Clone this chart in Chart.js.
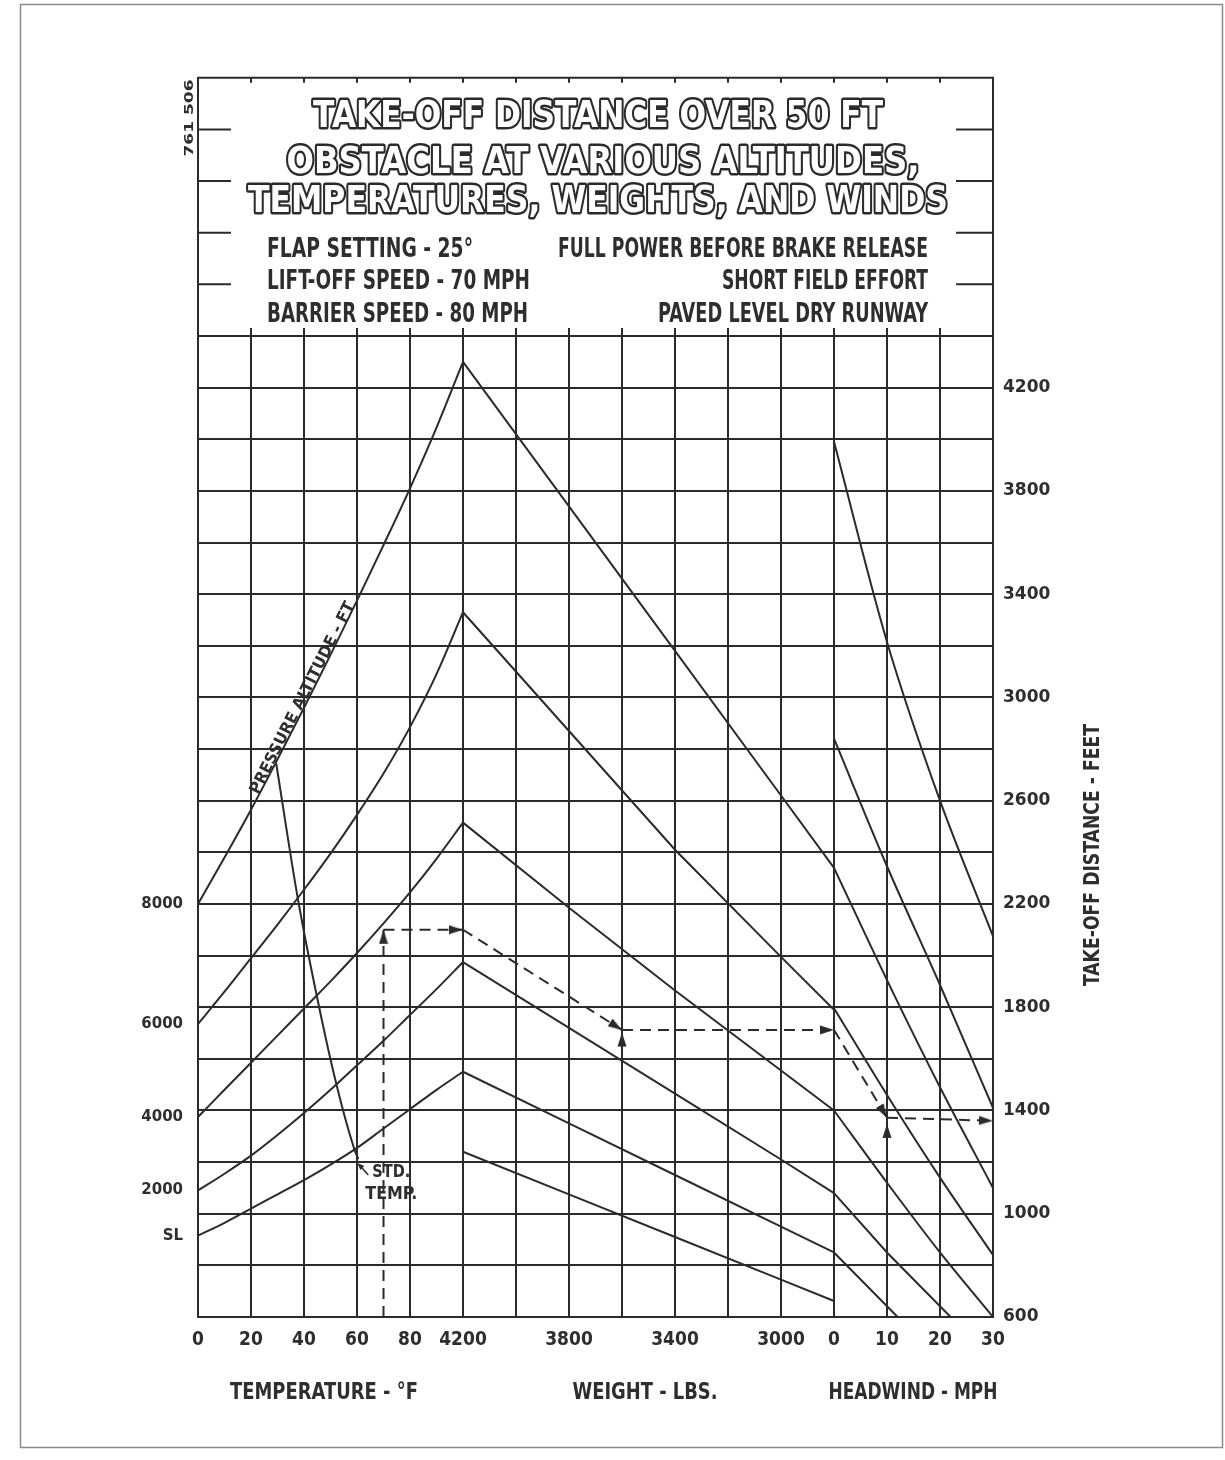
<!DOCTYPE html>
<html>
<head>
<meta charset="utf-8">
<title>Take-off distance over 50 ft obstacle</title>
<script src="https://cdn.jsdelivr.net/npm/chart.js@4.4.1/dist/chart.umd.min.js"></script>
<style>
  html, body { margin: 0; padding: 0; background: #fff; }
  #wrap { width: 1225px; height: 1460px; }
</style>
</head>
<body>
<div id="wrap"><canvas id="takeoffChart" width="1225" height="1460"></canvas></div>
<script>
const ink = '#2b2b2b';
const NARROW = '"Liberation Sans Narrow", "DejaVu Sans Condensed", "Arial Narrow", sans-serif';
const WIDE = '"DejaVu Sans", "Liberation Sans", sans-serif';

// temperature section, take-off distance (ft) for each pressure altitude
const tempPts = [0, 10, 20, 30, 40, 50, 60, 70, 80, 90, 100];
const alt8000 = [2200, 2380, 2565, 2760, 2960, 3165, 3375, 3590, 3810, 4045, 4300];
const alt6000 = [1735, 1860, 1990, 2120, 2255, 2395, 2545, 2705, 2885, 3090, 3330];
const alt4000 = [1375, 1480, 1585, 1690, 1795, 1900, 2010, 2125, 2245, 2375, 2515];
const alt2000 = [1090, 1155, 1225, 1305, 1390, 1480, 1575, 1670, 1770, 1870, 1975];
const altSL = [915, 965, 1020, 1075, 1130, 1190, 1255, 1330, 1405, 1480, 1550];
const altNames = ['8000', '6000', '4000', '2000', 'SL'];

// standard temperature line
const stdTemps = [29.5, 37.6, 44.7, 51.9, 59, 60.5];
const stdDist = [2745, 2225, 1850, 1515, 1250, 1212];

// weight section guide lines
const weightPts = [4200, 3800, 3400, 3000, 2800];
const wt1 = [4300, 3740, 3180, 2620, 2340];
const wt2 = [3330, 2870, 2410, 1995, 1790];
const wt3 = [2515, 2185, 1865, 1555, 1400];
const wt4 = [1975, 1720, 1465, 1210, 1080];
const wt5 = [1550, 1350, 1150, 950, 850];
const wt6 = [1240, 1075, 910, 745, 662];

// headwind section guide lines
const windPts = [0, 10, 20, 30];
const hw1 = [3990, 3215, 2600, 2075];
const hw2 = [2840, 2346, 1886, 1410];
const hw3 = [2340, 1905, 1490, 1100];
const hw4 = [1796, 1460, 1140, 840];
const hw5 = [1400, 1120, 850, 600];
const hw6Pts = [0, 10, 22];
const hw6 = [1080, 850, 600];
const hw7Pts = [0, 12];
const hw7 = [850, 600];

// worked example (dashed)
const exTemp = [70, 70, 100];
const exTempDist = [600, 2100, 2100];
const exWeight = [4200, 3600, 2800];
const exWeightDist = [2100, 1712, 1712];
const exWind = [0, 10, 30];
const exWindDist = [1712, 1372, 1360];
const exUpWeight = [1640, 1702];
const exUpWind = [1290, 1348];

// tick labels
const tempTicks = [0, 20, 40, 60, 80];
const weightTicks = [4200, 3800, 3400, 3000];
const windTicks = [0, 10, 20, 30];
const distTicks = [600, 1000, 1400, 1800, 2200, 2600, 3000, 3400, 3800, 4200];

// the three scales share one x axis, 20 F / 200 lb / 10 mph per grid square
const tx = t => t / 20;
const wx = w => 5 + (4200 - w) / 200;
const hx = h => 12 + h / 10;

const xLabels = {};
tempTicks.forEach(t => xLabels[tx(t)] = String(t));
weightTicks.forEach(w => xLabels[wx(w)] = String(w));
windTicks.forEach(h => xLabels[hx(h)] = String(h));

function arrowHead() {
    const c = document.createElement('canvas');
    c.width = 10; c.height = 30;
    const g = c.getContext('2d');
    g.fillStyle = ink;
    g.beginPath();
    g.moveTo(5, 15); g.lineTo(9.5, 29); g.lineTo(0.5, 29);
    g.closePath(); g.fill();
    return c;
}
const arrowImg = arrowHead();

function series(xs, ys, conv, extra) {
    return Object.assign({
        data: xs.map((v, i) => ({ x: conv(v), y: ys[i] })),
        borderColor: ink,
        borderWidth: 2,
        pointRadius: 0,
        fill: false
    }, extra || {});
}

function arrowed(xs, ys, conv, dashed) {
    return series(xs, ys, conv, {
        borderDash: dashed ? [11, 7] : [],
        pointStyle: arrowImg,
        pointRadius: c => c.dataIndex === c.dataset.data.length - 1 ? 5 : 0,
        pointRotation: c => {
            const d = c.dataset.data, n = d.length;
            const sx = c.chart.scales.x, sy = c.chart.scales.y;
            const dx = sx.getPixelForValue(d[n - 1].x) - sx.getPixelForValue(d[n - 2].x);
            const dy = sy.getPixelForValue(d[n - 1].y) - sy.getPixelForValue(d[n - 2].y);
            return Math.atan2(dy, dx) * 180 / Math.PI + 90;
        }
    });
}

const curve = { cubicInterpolationMode: 'monotone' };
const altCurves = [alt8000, alt6000, alt4000, alt2000, altSL];

const datasets = [];
altCurves.forEach(a => datasets.push(series(tempPts, a, tx, curve)));
datasets.push(series(stdTemps, stdDist, tx, curve));
[wt1, wt2, wt3, wt4, wt5, wt6].forEach(w => datasets.push(series(weightPts, w, wx)));
[hw1, hw2, hw3, hw4, hw5].forEach(h => datasets.push(series(windPts, h, hx, curve)));
datasets.push(series(hw6Pts, hw6, hx));
datasets.push(series(hw7Pts, hw7, hx));
// dashed example path
datasets.push(arrowed(exTemp.slice(0, 2), exTempDist.slice(0, 2), tx, true));
datasets.push(arrowed(exTemp.slice(1), exTempDist.slice(1), tx, true));
datasets.push(arrowed(exWeight.slice(0, 2), exWeightDist.slice(0, 2), wx, true));
datasets.push(arrowed(exWeight.slice(1), exWeightDist.slice(1), wx, true));
datasets.push(arrowed(exWind.slice(0, 2), exWindDist.slice(0, 2), hx, true));
datasets.push(arrowed(exWind.slice(1), exWindDist.slice(1), hx, true));
datasets.push(arrowed([exWeight[1], exWeight[1]], exUpWeight, wx, false));
datasets.push(arrowed([exWind[1], exWind[1]], exUpWind, hx, false));

// text helper: draws bold text squeezed to a given width
function put(c, s, x, y, size, fam, width, align, rot, outline, oy) {
    c.save();
    c.font = 'bold ' + size + 'px ' + fam;
    c.textAlign = align || 'center';
    c.textBaseline = 'alphabetic';
    c.translate(x, y);
    if (rot) c.rotate(rot);
    if (width) c.scale(width / c.measureText(s).width, 1);
    const dy = size * 0.36 + (oy || 0);
    if (outline) {
        c.lineJoin = 'round';
        c.lineWidth = outline;
        c.strokeStyle = ink;
        c.strokeText(s, 0, dy);
        c.fillStyle = '#fff';
        c.fillText(s, 0, dy);
    } else {
        c.fillStyle = '#2e2e2e';
        c.fillText(s, 0, dy);
    }
    c.restore();
}

const decor = {
    id: 'decor',
    beforeDraw(chart) {
        const c = chart.ctx;
        c.save();
        c.fillStyle = '#fff';
        c.fillRect(0, 0, chart.width, chart.height);
        c.restore();
    },
    afterDraw(chart) {
        const c = chart.ctx, a = chart.chartArea;
        const xs = chart.scales.x, ys = chart.scales.y;
        const top = ys.getPixelForValue(5400), base = ys.getPixelForValue(4400);
        c.save();
        // header box above the grid
        c.strokeStyle = ink;
        c.lineWidth = 2;
        c.beginPath();
        c.moveTo(a.left, base); c.lineTo(a.left, top); c.lineTo(a.right, top); c.lineTo(a.right, base);
        for (let v = 4600; v < 5400; v += 200) {
            const py = ys.getPixelForValue(v);
            c.moveTo(a.left, py); c.lineTo(a.left + 33, py);
            c.moveTo(a.right - 37, py); c.lineTo(a.right, py);
        }
        for (let i = 1; i < 15; i++) {
            const px = xs.getPixelForValue(i);
            c.moveTo(px, top); c.lineTo(px, top + 5);
            c.moveTo(px, base); c.lineTo(px, base - 8);
        }
        c.stroke();
        // page border
        c.strokeStyle = '#8a8a8a';
        c.lineWidth = 1.5;
        c.strokeRect(20.5, 4.5, 1202, 1443);
        c.restore();

        // title, outlined letters
        put(c, 'TAKE-OFF DISTANCE OVER 50 FT', 598, 113, 38, WIDE, 570, 'center', 0, 5);
        put(c, 'OBSTACLE AT VARIOUS ALTITUDES,', 603, 159, 38, WIDE, 633, 'center', 0, 5);
        put(c, 'TEMPERATURES, WEIGHTS, AND WINDS', 598, 198, 38, WIDE, 700, 'center', 0, 5);

        put(c, 'FLAP SETTING - 25°', 267, 247, 27, NARROW, 206, 'left');
        put(c, 'LIFT-OFF SPEED - 70 MPH', 267, 279, 27, NARROW, 263, 'left');
        put(c, 'BARRIER SPEED - 80 MPH', 267, 312, 27, NARROW, 261, 'left');
        put(c, 'FULL POWER BEFORE BRAKE RELEASE', 928, 247, 27, NARROW, 370, 'right');
        put(c, 'SHORT FIELD EFFORT', 928, 279, 27, NARROW, 206, 'right');
        put(c, 'PAVED LEVEL DRY RUNWAY', 928, 312, 27, NARROW, 270, 'right');

        put(c, '761 506', 189, 118, 12, WIDE, 77, 'center', -Math.PI / 2);

        // axis titles
        put(c, 'TEMPERATURE - °F', 324, 1391, 23, NARROW, 188);
        put(c, 'WEIGHT - LBS.', 645, 1391, 23, NARROW, 145);
        put(c, 'HEADWIND - MPH', 913, 1391, 23, NARROW, 169);
        put(c, 'TAKE-OFF DISTANCE - FEET', 1091, 855, 21, NARROW, 262, 'center', -Math.PI / 2);

        // pressure altitude label along the 8000 ft curve
        const p1x = xs.getPixelForValue(tx(tempPts[2])), p1y = ys.getPixelForValue(alt8000[2]);
        const p2x = xs.getPixelForValue(tx(tempPts[6])), p2y = ys.getPixelForValue(alt8000[6]);
        const ang = Math.atan2(p2y - p1y, p2x - p1x);
        const ax = xs.getPixelForValue(tx(tempPts[4])), ay = ys.getPixelForValue(alt8000[4]);
        c.save();
        c.translate(ax, ay);
        c.rotate(ang);
        put(c, 'PRESSURE ALTITUDE - FT', 8, 0, 16, NARROW, 213, 'center', 0, 0, -7);
        c.restore();

        // standard temperature note
        const n = stdTemps.length - 1;
        const sx = xs.getPixelForValue(tx(stdTemps[n])), sy = ys.getPixelForValue(stdDist[n]);
        put(c, 'STD.', sx + 33, sy + 12, 17, NARROW, 38);
        put(c, 'TEMP.', sx + 33, sy + 34, 17, NARROW, 52);
        c.save();
        c.strokeStyle = ink;
        c.fillStyle = ink;
        c.lineWidth = 1.5;
        c.beginPath();
        c.moveTo(sx + 10, sy + 16); c.lineTo(sx + 1, sy + 6);
        c.stroke();
        c.beginPath();
        c.moveTo(sx - 1, sy + 4); c.lineTo(sx + 6, sy + 7); c.lineTo(sx + 2, sy + 11);
        c.closePath(); c.fill();
        c.restore();
    }
};

const ctx = document.getElementById('takeoffChart').getContext('2d');
const takeoffChart = new Chart(ctx, {
    type: 'line',
    data: { datasets: datasets },
    plugins: [decor],
    options: {
        responsive: false,
        animation: false,
        layout: { padding: { top: 336, left: 0, right: 0, bottom: 0 } },
        plugins: { legend: { display: false }, tooltip: { enabled: false } },
        elements: { line: { tension: 0 } },
        scales: {
            x: {
                type: 'linear',
                min: 0,
                max: 15,
                afterFit: s => { s.height = 143; },
                grid: { color: ink, lineWidth: 2, drawTicks: false },
                border: { display: true, color: ink, width: 2 },
                ticks: {
                    stepSize: 1,
                    autoSkip: false,
                    maxRotation: 0,
                    padding: 12,
                    color: '#2e2e2e',
                    font: { family: NARROW, size: 19, weight: 'bold' },
                    callback: v => xLabels[Math.round(v)] || ''
                }
            },
            y: {
                type: 'linear',
                position: 'right',
                min: 600,
                max: 4400,
                afterFit: s => { s.width = 232; },
                grid: { color: ink, lineWidth: 2, drawTicks: false },
                border: { display: true, color: ink, width: 2 },
                ticks: {
                    stepSize: 200,
                    autoSkip: false,
                    padding: 10,
                    color: '#2e2e2e',
                    font: { family: WIDE, size: 17, weight: 'bold' },
                    callback: v => distTicks.includes(v) ? String(v) : ''
                }
            },
            yAlt: {
                type: 'linear',
                position: 'left',
                min: 600,
                max: 4400,
                afterFit: s => { s.width = 198; },
                afterBuildTicks: s => { s.ticks = altCurves.map(a => ({ value: a[0] })); },
                grid: { display: false, drawTicks: false },
                border: { display: false },
                ticks: {
                    autoSkip: false,
                    padding: 15,
                    color: '#2e2e2e',
                    font: { family: WIDE, size: 15, weight: 'bold' },
                    callback: (v, i) => altNames[i]
                }
            }
        }
    }
});
</script>
</body>
</html>
